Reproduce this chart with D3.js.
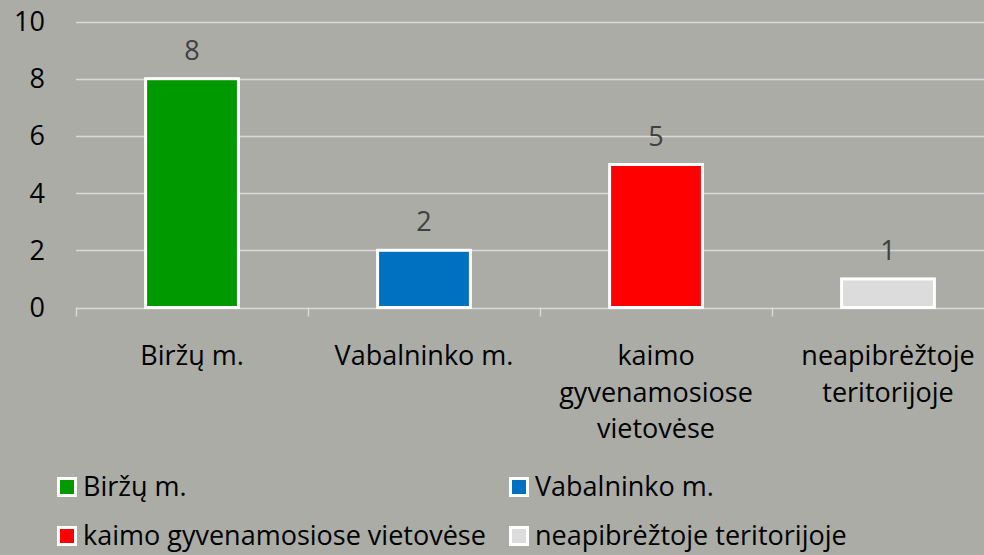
<!DOCTYPE html>
<html>
<head>
<meta charset="utf-8">
<script src="https://cdn.jsdelivr.net/npm/d3@7/dist/d3.min.js"></script>
<style>
  html, body { margin: 0; padding: 0; background: #abaca6; }
  svg { display: block; font-family: "Open Sans", Lato, sans-serif; }
</style>
</head>
<body>
<div id="chart"></div>
<script>
(function() {
    'use strict';

    var categories = ['Biržų m.', 'Vabalninko m.', 'kaimo gyvenamosiose vietovėse', 'neapibrėžtoje teritorijoje'];
    var axisLabels = [['Biržų m.'], ['Vabalninko m.'], ['kaimo', 'gyvenamosiose', 'vietovėse'], ['neapibrėžtoje', 'teritorijoje']];
    var values = [8, 2, 5, 1];
    var colors = ['#009900', '#0070c0', '#ff0000', '#dcdcdc'];
    var yTicks = [0, 2, 4, 6, 8, 10];

    var width = 984, height = 555;
    var margin = { left: 76, right: -20, top: 21.5, bottom: 247.5 };
    var fontSize = 27;

    var svg = d3.select('#chart').append('svg')
        .attr('width', width)
        .attr('height', height);

    var x = d3.scaleBand()
        .domain(categories)
        .range([margin.left, width - margin.right])
        .paddingInner(0.6)
        .paddingOuter(0.3);

    var y = d3.scaleLinear()
        .domain([0, 10])
        .range([height - margin.bottom, margin.top]);

    // Gridlines
    svg.append('g')
        .selectAll('line')
        .data(yTicks)
        .join('line')
        .attr('x1', margin.left)
        .attr('x2', width)
        .attr('y1', function(d) { return Math.round(y(d)) + 0.5; })
        .attr('y2', function(d) { return Math.round(y(d)) + 0.5; })
        .attr('stroke', '#d9d9d9')
        .attr('stroke-width', 1.5);

    // Category ticks
    var bandStarts = categories.map(function(c, i) { return margin.left + i * ((width - margin.right - margin.left) / categories.length); });
    svg.append('g')
        .selectAll('line')
        .data(bandStarts)
        .join('line')
        .attr('x1', function(d) { return Math.round(d) + 0.5; })
        .attr('x2', function(d) { return Math.round(d) + 0.5; })
        .attr('y1', y(0))
        .attr('y2', y(0) + 9)
        .attr('stroke', '#d9d9d9')
        .attr('stroke-width', 1.5);

    // Y tick labels
    svg.append('g')
        .selectAll('text')
        .data(yTicks)
        .join('text')
        .attr('x', 45)
        .attr('y', function(d) { return y(d); })
        .attr('dy', '0.35em')
        .attr('text-anchor', 'end')
        .attr('font-size', fontSize)
        .attr('fill', '#000')
        .text(function(d) { return d; });

    // Bars
    svg.append('g')
        .selectAll('rect')
        .data(values)
        .join('rect')
        .attr('x', function(d, i) { return x(categories[i]); })
        .attr('y', function(d) { return y(d); })
        .attr('width', x.bandwidth())
        .attr('height', function(d) { return y(0) - y(d); })
        .attr('fill', function(d, i) { return colors[i]; })
        .attr('stroke', '#ffffff')
        .attr('stroke-width', 3);

    // Value labels
    svg.append('g')
        .selectAll('text')
        .data(values)
        .join('text')
        .attr('x', function(d, i) { return x(categories[i]) + x.bandwidth() / 2; })
        .attr('y', function(d) { return y(d) - 19; })
        .attr('text-anchor', 'middle')
        .attr('font-size', fontSize)
        .attr('fill', '#404040')
        .text(function(d) { return d; });

    // Category labels
    var catG = svg.append('g')
        .selectAll('text')
        .data(axisLabels)
        .join('text')
        .attr('x', function(d, i) { return x(categories[i]) + x.bandwidth() / 2; })
        .attr('y', 365)
        .attr('text-anchor', 'middle')
        .attr('font-size', fontSize)
        .attr('fill', '#000');
    catG.selectAll('tspan')
        .data(function(d) { return d; })
        .join('tspan')
        .attr('x', function() { return d3.select(this.parentNode).attr('x'); })
        .attr('dy', function(d, i) { return i === 0 ? 0 : 36.5; })
        .text(function(d) { return d; });

    // Legend
    var legendPos = [[57, 487], [509, 487], [57, 536], [509, 536]];
    var legend = svg.append('g')
        .selectAll('g')
        .data(categories)
        .join('g')
        .attr('transform', function(d, i) { return 'translate(' + legendPos[i][0] + ',' + legendPos[i][1] + ')'; });
    legend.append('rect')
        .attr('x', 1.5)
        .attr('y', -8.5)
        .attr('width', 17)
        .attr('height', 17)
        .attr('fill', function(d, i) { return colors[i]; })
        .attr('stroke', '#ffffff')
        .attr('stroke-width', 3);
    legend.append('text')
        .attr('x', 26)
        .attr('y', 0)
        .attr('dy', '0.33em')
        .attr('font-size', fontSize)
        .attr('fill', '#000')
        .text(function(d) { return d; });
})();
</script>
</body>
</html>
